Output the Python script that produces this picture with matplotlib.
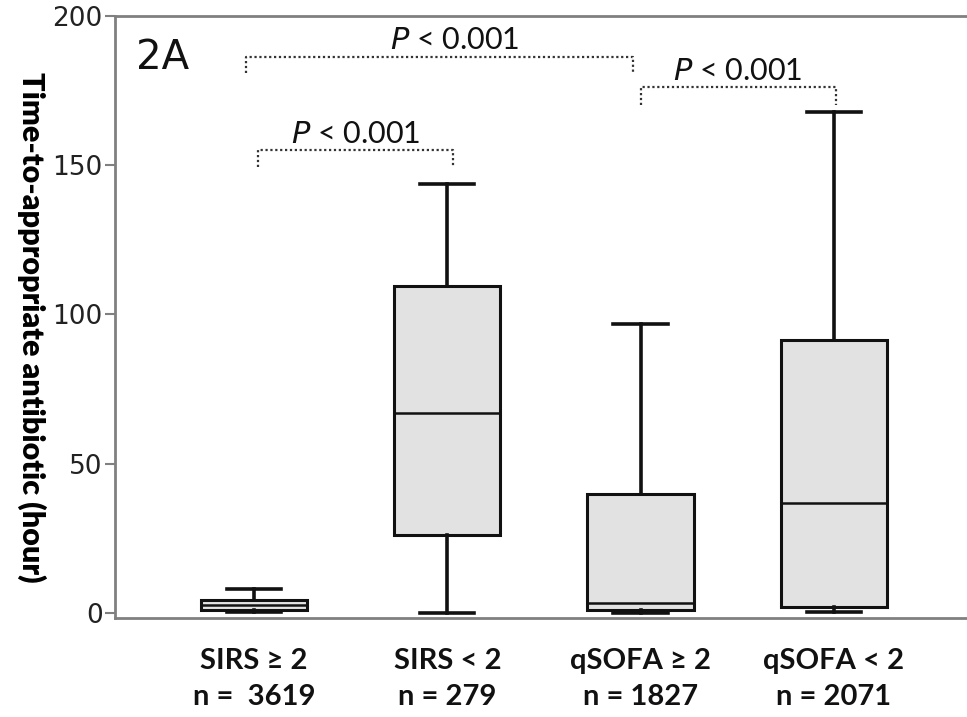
import matplotlib
matplotlib.use("Agg")
import matplotlib.pyplot as plt

groups = ["SIRS \u2265 2", "SIRS < 2", "qSOFA \u2265 2", "qSOFA < 2"]
ns = ["n =  3619", "n = 279", "n = 1827", "n = 2071"]
whislo = [0.3, 0.0, 0.0, 0.3]
q1 = [1.0, 26.0, 1.0, 2.0]
med = [2.7, 67.0, 3.4, 36.8]
q3 = [4.4, 109.5, 39.9, 91.5]
whishi = [8.0, 143.7, 96.8, 167.8]

# comparisons: (group a, group b, bracket top)
comparisons = [(0, 1, 155.0), (0, 2, 186.3), (2, 3, 176.0)]
p_text = "$\\mathit{P}$ < 0.001"

fig = plt.figure(figsize=(9.67, 7.17), dpi=100)
ax = fig.add_axes([0.119, 0.138, 0.881, 0.84])

stats = []
for i in range(len(groups)):
    stats.append(dict(whislo=whislo[i], q1=q1[i], med=med[i], q3=q3[i],
                      whishi=whishi[i], fliers=[], label=""))
pos = [1, 2, 3, 4]
ax.bxp(stats, positions=pos, widths=0.55, capwidths=0.28, patch_artist=True,
       showfliers=False,
       boxprops=dict(facecolor="#e2e2e2", edgecolor="#111111", linewidth=2.2),
       whiskerprops=dict(color="#111111", linewidth=2.6),
       capprops=dict(color="#111111", linewidth=2.6),
       medianprops=dict(color="#111111", linewidth=1.8))

ax.set_xlim(0.28, 4.69)
ax.set_ylim(-1.7, 200)
ax.set_yticks([0, 50, 100, 150, 200])
ax.set_xticks([])
for lab in ax.get_yticklabels():
    lab.set_fontfamily("DejaVu Sans")
    lab.set_fontsize(19)
    lab.set_color("#222222")
ax.tick_params(axis="y", length=7, width=1.5, color="#808080", pad=2)

for s in ["left", "top", "bottom"]:
    ax.spines[s].set_color("#808080")
    ax.spines[s].set_linewidth(2)
ax.spines["right"].set_visible(False)

ax.set_ylabel("Time-to-appropriate antibiotic (hour)", rotation=-90,
              fontfamily="Lato", fontweight="heavy", fontsize=22,
              va="center")
ax.yaxis.set_label_coords(-0.098, 0.483)

ax.text(0.39, 186, "2A", fontsize=29, fontfamily="DejaVu Sans",
        va="center", ha="left", color="#111111")

# group labels
for i, (g, n) in enumerate(zip(groups, ns)):
    ax.text(pos[i], -16, g, ha="center", va="center", fontsize=21,
            fontfamily="Lato", fontweight="bold", color="#111111")
    ax.text(pos[i], -28, n, ha="center", va="center", fontsize=21,
            fontfamily="Lato", fontweight="bold", color="#111111")

# brackets
offs = [(0.02, 0.03, 5.6), (-0.04, -0.04, 5.3), (0.0, 0.01, 6.0)]
for (a, b, top), (la, rb, drop) in zip(comparisons, offs):
    xa = pos[a] + la
    xb = pos[b] + rb
    ax.plot([xa, xa, xb, xb], [top - drop, top, top, top - drop],
            linestyle=(0, (1, 1.2)), color="#333333", linewidth=1.6)
    ax.text((xa + xb) / 2 + (0.08 if b - a == 2 else 0), top + 0.8, p_text,
            ha="center", va="bottom", fontsize=22, fontfamily="Lato",
            color="#111111")

fig.savefig("out.png", dpi=100)
